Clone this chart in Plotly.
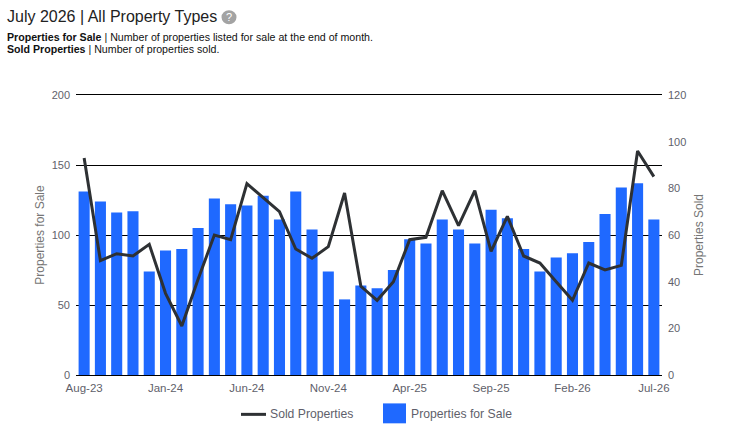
import plotly.graph_objects as go

months = ["Aug-23", "Sep-23", "Oct-23", "Nov-23", "Dec-23", "Jan-24", "Feb-24", "Mar-24", "Apr-24",
          "May-24", "Jun-24", "Jul-24", "Aug-24", "Sep-24", "Oct-24", "Nov-24", "Dec-24", "Jan-25",
          "Feb-25", "Mar-25", "Apr-25", "May-25", "Jun-25", "Jul-25", "Aug-25", "Sep-25", "Oct-25",
          "Nov-25", "Dec-25", "Jan-26", "Feb-26", "Mar-26", "Apr-26", "May-26", "Jun-26", "Jul-26"]
for_sale = [131, 124, 116, 117, 74, 89, 90, 105, 126, 122, 121, 128, 111, 131, 104, 74, 54, 64,
            62, 75, 97, 94, 111, 104, 94, 118, 112, 90, 74, 84, 87, 95, 115, 134, 137, 111]
sold = [93, 49, 52, 51, 56, 35, 21, 41, 60, 58, 82, 76, 70, 54, 50, 55, 78, 38,
        32, 40, 58, 59, 79, 64, 79, 53, 68, 51, 48, 40, 32, 48, 45, 47, 96, 85]
tick_months = ["Aug-23", "Jan-24", "Jun-24", "Nov-24", "Apr-25", "Sep-25", "Feb-26", "Jul-26"]

W, H = 751, 443
L, R, T, B = 76, 662, 94.5, 375.5
FONT = "Liberation Sans"
GREY = "#5f5f6b"
BLUE = "#1f69ff"
DARK = "#2e3134"


def px(x):
    return (x - L) / (R - L)


def py(y):
    return (B - y) / (B - T)


def text(x, y, s, size=12, color=GREY, anchor="left", angle=0):
    return dict(text=s, x=px(x), y=py(y), xref="paper", yref="paper", showarrow=False,
                xanchor=anchor, yanchor="middle", textangle=angle, borderpad=0, borderwidth=0,
                font=dict(family=FONT, size=size, color=color))


def box(kind, x0, y0, x1, y1, **kw):
    return dict(type=kind, xref="paper", yref="paper", x0=px(x0), x1=px(x1), y0=py(y0), y1=py(y1), **kw)


fig = go.Figure()
fig.add_trace(go.Bar(x=months, y=for_sale, name="Properties for Sale", marker_color=BLUE,
                     marker_line_width=0, yaxis="y"))
fig.add_trace(go.Scatter(x=months, y=sold, name="Sold Properties", mode="lines",
                         line=dict(color=DARK, width=3), yaxis="y2"))

fig.update_layout(
    width=W, height=H, margin=dict(l=L, r=W - R, t=T, b=H - B),
    paper_bgcolor="white", plot_bgcolor="white", showlegend=False, bargap=0.32,
    font=dict(family=FONT, size=12, color=GREY),
    xaxis=dict(type="category", categoryorder="array", categoryarray=months, tickmode="array",
               tickvals=tick_months, ticktext=tick_months, showgrid=False, zeroline=False,
               showline=True, mirror=True, linecolor="black", linewidth=1, ticks="", tickangle=0,
               range=[-0.5, 35.5], ticklabelstandoff=2, tickfont=dict(size=11.5)),
    yaxis=dict(range=[0, 200], tickvals=[0, 50, 100, 150, 200], gridcolor="black", gridwidth=1,
               zeroline=False, showline=False, ticks="", automargin=False, ticklabelstandoff=5,
               tickfont=dict(size=11),
               title=dict(text="Properties for Sale", standoff=4, font=dict(size=12, color="#757575"))),
    yaxis2=dict(range=[0, 120], tickvals=[0, 20, 40, 60, 80, 100, 120], overlaying="y", side="right",
                showgrid=False, zeroline=False, showline=False, ticks="", automargin=False,
                ticklabelstandoff=5, tickfont=dict(size=11),
                title=dict(text="Properties Sold", standoff=9, font=dict(size=12, color="#757575"))),
    annotations=[
        text(7, 15.5, "July 2026 | All Property Types", size=16, color="#222222"),
        text(228.5, 16.5, "?", size=11, color="white", anchor="center"),
        text(7, 36, "<b>Properties for Sale</b> | Number of properties listed for sale at the end of month.",
             size=10.63, color="#111111"),
        text(7, 48, "<b>Sold Properties</b> | Number of properties sold.", size=10.63, color="#111111"),
        text(270, 415, "Sold Properties", size=12.2),
        text(411, 415, "Properties for Sale", size=12.2),
    ],
    shapes=[
        box("circle", 221.5, 9.5, 236.5, 23.5, fillcolor="#a3a3a3", line_width=0),
        box("line", 241, 415, 266, 415, line=dict(color=DARK, width=3)),
        box("rect", 383, 404, 406, 424, fillcolor=BLUE, line_width=0),
    ],
)

fig.write_html("out.html", config=dict(displayModeBar=False),
               post_script="document.body.style.margin='0';")
